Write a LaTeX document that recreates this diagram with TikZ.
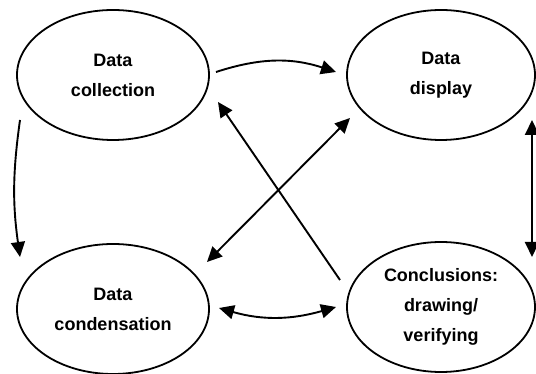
\documentclass[tikz,border=0pt]{standalone}
\usepackage{fontspec}
\setmainfont{Liberation Sans}
\usetikzlibrary{shapes.geometric,arrows.meta}
\begin{document}
\begin{tikzpicture}[x=1pt,y=1pt,
  stage/.style={ellipse,draw,line width=1.8pt,inner sep=0pt,minimum width=192pt,minimum height=130pt,align=center,font=\bfseries\fontsize{18}{30}\selectfont},
  link/.style={line width=1.9pt,-{Triangle[length=15pt,width=14pt]}},
  both/.style={line width=1.9pt,{Triangle[length=15pt,width=14pt]}-{Triangle[length=15pt,width=14pt]}}]
\useasboundingbox (0,0) rectangle (536,374);
\node[stage] (col) at (113,299) {Data\\collection};
\node[stage,minimum width=188pt] (disp) at (441,299) {Data\\display};
\node[stage] (cond) at (113,65) {Data\\condensation};
\node[stage,minimum width=188pt] (conc) at (441,67) {Conclusions:\\drawing/\\verifying};
\draw[link] ([shift={(103,3)}]col.center) to[out=18,in=162] ([shift={(-105,3)}]disp.center);
\draw[link] ([shift={(-93,-45)}]col.center) to[out=262,in=98] ([shift={(-93,52)}]cond.center);
\draw[both] ([shift={(91,-45)}]disp.center) -- ([shift={(91,50)}]conc.center);
\draw[link] ([shift={(-101,27)}]conc.center) -- ([shift={(105,-27)}]col.center);
\draw[both] ([shift={(-91,-43)}]disp.center) -- ([shift={(94,47)}]cond.center);
\draw[both] ([shift={(106,1)}]cond.center) to[out=-16,in=196] ([shift={(-105,0)}]conc.center);
\end{tikzpicture}
\end{document}
